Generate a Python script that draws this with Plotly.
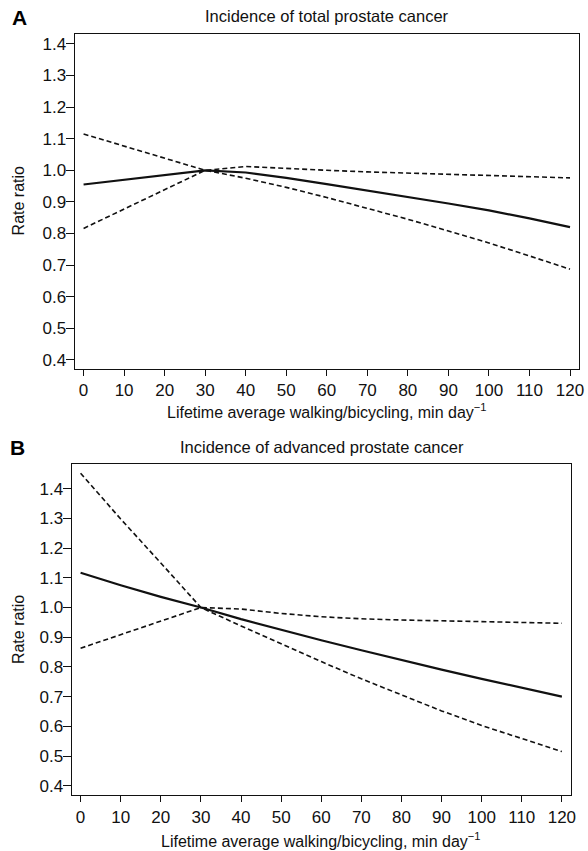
import plotly.graph_objects as go

W, H = 588, 851

# ---------------- data ----------------
minutes = [0, 10, 20, 30, 40, 50, 60, 70, 80, 90, 100, 110, 120]

# Panel A: incidence of total prostate cancer
a_rr = [0.955, 0.970, 0.985, 1.000, 0.993, 0.976, 0.956, 0.936, 0.916, 0.895, 0.873, 0.848, 0.820]
a_ci_1 = [1.115, 1.077, 1.038, 1.000, 0.975, 0.946, 0.914, 0.880, 0.845, 0.808, 0.770, 0.729, 0.687]
a_ci_2 = [0.816, 0.877, 0.940, 1.000, 1.012, 1.005, 1.000, 0.995, 0.991, 0.987, 0.983, 0.979, 0.976]

# Panel B: incidence of advanced prostate cancer
b_rr = [1.117, 1.075, 1.036, 1.000, 0.961, 0.925, 0.890, 0.856, 0.823, 0.791, 0.760, 0.730, 0.700]
b_ci_1 = [1.452, 1.298, 1.150, 1.000, 0.938, 0.877, 0.818, 0.760, 0.705, 0.652, 0.603, 0.558, 0.515]
b_ci_2 = [0.863, 0.908, 0.955, 1.000, 0.995, 0.980, 0.969, 0.962, 0.958, 0.955, 0.952, 0.950, 0.947]

x_ticks = [0, 10, 20, 30, 40, 50, 60, 70, 80, 90, 100, 110, 120]
y_ticks = [0.4, 0.5, 0.6, 0.7, 0.8, 0.9, 1.0, 1.1, 1.2, 1.3, 1.4]

panel_labels = ["A", "B"]
panel_titles = ["Incidence of total prostate cancer", "Incidence of advanced prostate cancer"]
x_title = "Lifetime average walking/bicycling, min day<sup>−1</sup>"
y_title = "Rate ratio"

# ---------------- layout helpers (pixel geometry) ----------------
def px_x(p):
    return p / W

def px_y(p):
    return (H - p) / H

FONT = "Liberation Sans, Arial, Helvetica, sans-serif"
INK = "#111111"

fig = go.Figure()

panels = [
    dict(rr=a_rr, c1=a_ci_1, c2=a_ci_2, xa="x", ya="y",
         xdom=[px_x(75.3), px_x(584.3)], ydom=[px_y(369.3), px_y(34.0)],
         xr=[-2.2, 122.3], yr=[0.3715, 1.4316]),
    dict(rr=b_rr, c1=b_ci_1, c2=b_ci_2, xa="x2", ya="y2",
         xdom=[px_x(72.3), px_x(576.0)], ydom=[px_y(796.0), px_y(464.3)],
         xr=[-2.22, 122.3], yr=[0.3687, 1.484]),
]

for p in panels:
    for vals, dash, w in [(p["c1"], "5px,3px", 1.6), (p["c2"], "5px,3px", 1.6), (p["rr"], "solid", 2.2)]:
        fig.add_trace(go.Scatter(
            x=minutes, y=vals, mode="lines", xaxis=p["xa"], yaxis=p["ya"],
            line=dict(color=INK, width=w, dash=dash), showlegend=False,
            hoverinfo="skip"))

axis_common = dict(showgrid=False, zeroline=False, showline=True, mirror=True,
                   linecolor=INK, linewidth=1.3, ticks="outside", tickcolor=INK,
                   tickwidth=1.1, tickfont=dict(family=FONT, size=17, color=INK))

layout_axes = {}
for i, p in enumerate(panels):
    sx = "" if i == 0 else str(i + 1)
    layout_axes["xaxis" + sx] = dict(axis_common, domain=p["xdom"], range=p["xr"],
                                     tickmode="array", tickvals=x_ticks, ticklen=6,
                                     anchor="y" + sx)
    layout_axes["yaxis" + sx] = dict(axis_common, domain=p["ydom"], range=p["yr"],
                                     tickmode="array", tickvals=y_ticks, ticklen=8,
                                     tickformat=".1f", anchor="x" + sx,
                                     ticklabelstandoff=-4)

annotations = []
label_pos = [(10, 18.0), (8.3, 448.3)]
title_pos = [(330.0, 16.4), (324.3, 447.5)]
xtitle_pos = [(329.6, 411.5), (324.0, 840.5)]
ytitle_pos = [(18.3, 201.5), (18.0, 630.0)]
for i in range(2):
    annotations.append(dict(text="<b>%s</b>" % panel_labels[i], x=px_x(label_pos[i][0]), y=px_y(label_pos[i][1]),
                            xref="paper", yref="paper", xanchor="left", yanchor="middle", showarrow=False,
                            font=dict(family=FONT, size=21, color="#000000")))
    annotations.append(dict(text=panel_titles[i], x=px_x(title_pos[i][0]), y=px_y(title_pos[i][1]),
                            xref="paper", yref="paper", xanchor="center", yanchor="middle", showarrow=False,
                            font=dict(family=FONT, size=16.5, color=INK)))
    annotations.append(dict(text=x_title, x=px_x(xtitle_pos[i][0]), y=px_y(xtitle_pos[i][1]),
                            xref="paper", yref="paper", xanchor="center", yanchor="middle", showarrow=False,
                            font=dict(family=FONT, size=16, color=INK)))
    annotations.append(dict(text=y_title, x=px_x(ytitle_pos[i][0]), y=px_y(ytitle_pos[i][1]),
                            xref="paper", yref="paper", xanchor="center", yanchor="middle", showarrow=False,
                            textangle=-90, font=dict(family=FONT, size=16, color=INK)))

fig.update_layout(
    width=W, height=H, margin=dict(l=0, r=0, t=0, b=0),
    paper_bgcolor="white", plot_bgcolor="white", hovermode=False,
    annotations=annotations, **layout_axes)

fig.write_html("out.html", config={"displayModeBar": False},
               post_script="document.body.style.margin='0px';document.body.style.padding='0px';")
